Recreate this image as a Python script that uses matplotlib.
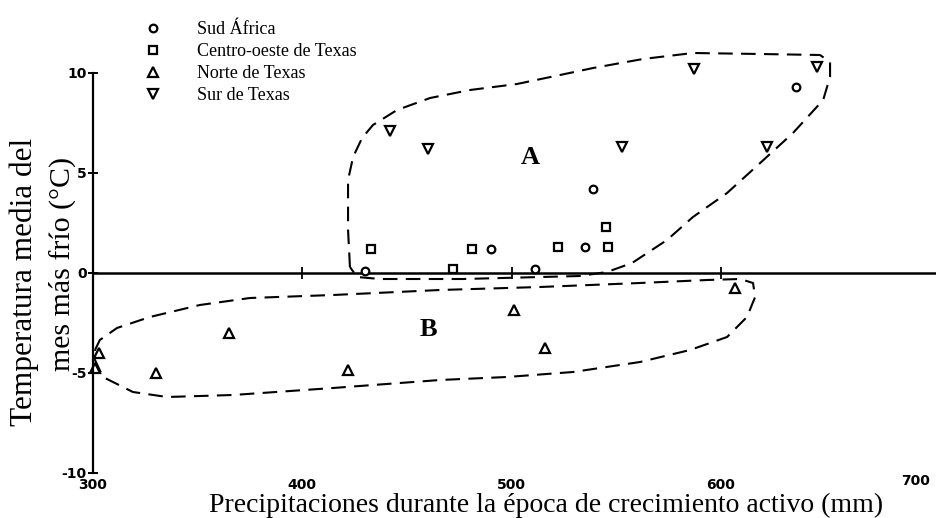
import numpy as np
import matplotlib.pyplot as plt

# Sud África
sa_x = [430, 490, 511, 535, 539, 636]
sa_y = [0.1, 1.2, 0.2, 1.3, 4.2, 9.3]
# Centro-oeste de Texas
cw_x = [433, 472, 481, 522, 545, 546]
cw_y = [1.2, 0.2, 1.2, 1.3, 2.3, 1.3]
# Norte de Texas
nt_x = [301, 303, 330, 365, 422, 501, 516, 607]
nt_y = [-4.75, -4.0, -5.0, -3.0, -4.85, -1.85, -3.75, -0.75]
# Sur de Texas
st_x = [442, 460, 553, 587, 622, 646]
st_y = [7.1, 6.2, 6.3, 10.2, 6.3, 10.3]

# contorno del grupo A
a_x = [422.8, 421.9, 421.9, 424.3, 428.6, 433.8, 445.3, 461.1, 480.2, 502.6,
       523.2, 539.0, 562.8, 586.7, 618.8, 647.4, 652.2, 652.2, 648.9, 634.5,
       618.8, 603.0, 586.7, 574.3, 557.6, 545.6, 532.7, 476.8, 437.2, 426.2, 422.8]
a_y = [0.3, 2.15, 4.65, 5.8, 6.75, 7.4, 8.15, 8.75, 9.15, 9.45,
       9.9, 10.25, 10.7, 11.0, 10.95, 10.9, 10.55, 9.8, 8.65, 7.0,
       5.5, 4.0, 2.8, 1.65, 0.5, 0.05, -0.15, -0.3, -0.3, -0.2, 0.3]
# contorno del grupo B
b_x = [301.0, 303.3, 311.5, 327.2, 351.1, 375.0, 414.7, 465.8, 513.6, 561.4,
       593.4, 609.2, 615.4, 616.4, 612.5, 603.0, 585.3, 561.4, 529.4, 497.8,
       465.8, 414.7, 366.9, 335.4, 319.1, 304.8, 301.0, 301.0]
b_y = [-3.85, -3.35, -2.75, -2.2, -1.6, -1.25, -1.1, -0.85, -0.7, -0.5,
       -0.35, -0.3, -0.5, -1.2, -2.2, -3.2, -3.85, -4.45, -4.95, -5.2,
       -5.35, -5.75, -6.1, -6.2, -5.95, -5.2, -4.35, -3.85]

x_ticks = [300, 400, 500, 600, 700]
x_tick_labels = ['300', '400', '500', '600', '700']
y_ticks = [-10, -5, 0, 5, 10]

fig = plt.figure(figsize=(9.37, 5.18), dpi=100)
ax = fig.add_axes([0, 0, 1, 1])
ax.set_xlim(255.6, 703.3)
ax.set_ylim(-12.25, 13.65)

for s in ['top', 'right', 'bottom']:
    ax.spines[s].set_visible(False)
ax.spines['left'].set_position(('data', 300))
ax.spines['left'].set_bounds(-10, 10)
ax.spines['left'].set_linewidth(1.6)
ax.set_yticks(y_ticks)
ax.set_yticklabels([str(v) for v in y_ticks], fontweight='bold', fontsize=10)
ax.tick_params(axis='y', direction='inout', length=7, width=1.4, pad=1)
ax.set_xticks([])

# eje horizontal en 0 con sus marcas
ax.hlines(0, x_ticks[0], ax.get_xlim()[1], color='k', lw=1.8)
ax.plot(x_ticks[1:4], np.zeros(3), ls='none', marker='|', ms=8, mew=1.3, color='k')
# rótulos de x al pie; el último se alinea a la derecha para que quepa
for xv, lab in zip(x_ticks[:-1], x_tick_labels[:-1]):
    ax.text(xv, -10.6, lab, ha='center', va='center', fontsize=10, fontweight='bold')
ax.text(x_ticks[-1], -10.4, x_tick_labels[-1], ha='right', va='center',
        fontsize=10, fontweight='bold')

dash = (0, (7, 4))
ax.plot(a_x, a_y, color='k', lw=1.5, ls=dash)
ax.plot(b_x, b_y, color='k', lw=1.5, ls=dash)

mk = dict(ls='none', mfc='white', mec='k', mew=1.6, color='k')
h1, = ax.plot(sa_x, sa_y, marker='o', ms=5.5, **mk)
h2, = ax.plot(cw_x, cw_y, marker='s', ms=5.5, **mk)
h3, = ax.plot(nt_x, nt_y, marker='^', ms=6.5, **mk)
h4, = ax.plot(st_x, st_y, marker='v', ms=6.5, **mk)

serif = 'Liberation Serif'
ax.text(508.8, 5.8, 'A', fontsize=19, fontweight='bold', family=serif, ha='center', va='center')
ax.text(460.1, -2.85, 'B', fontsize=19, fontweight='bold', family=serif, ha='center', va='center')

ax.legend([h1, h2, h3, h4],
          ['Sud África', 'Centro-oeste de Texas', 'Norte de Texas', 'Sur de Texas'],
          loc='upper left', bbox_to_anchor=(0.154, 0.959), frameon=False,
          prop={'family': serif, 'size': 13}, handlelength=1.0, handletextpad=1.9,
          labelspacing=0.28, borderpad=0, borderaxespad=0)

ax.text(0.026, 0.456, 'Temperatura media del', rotation=90, ha='center', va='center',
        fontsize=22.5, family=serif, transform=ax.transAxes)
ax.text(0.067, 0.49, 'mes más frío (°C)', rotation=90, ha='center', va='center',
        fontsize=21.5, family=serif, transform=ax.transAxes)
ax.text(0.583, 0.012, 'Precipitaciones durante la época de crecimiento activo (mm)',
        ha='center', va='baseline', fontsize=20, family=serif, transform=ax.transAxes)

fig.savefig('out.png', dpi=100)
